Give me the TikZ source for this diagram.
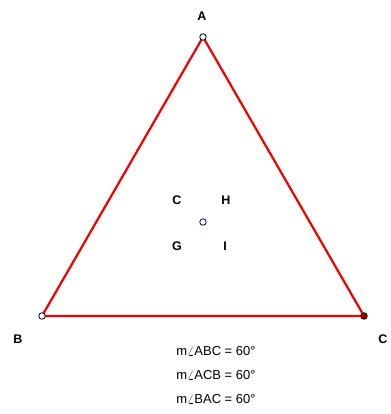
\documentclass[tikz,border=0pt]{standalone}
\usepackage{fontspec}
\setmainfont{Liberation Sans}
\usepackage{tikz}
\usetikzlibrary{positioning}

\begin{document}
\begin{tikzpicture}[
            x=1pt, y=-1pt,
            every node/.style={font=\small},
            % Estilos
            vlabel/.style={font=\bfseries\fontsize{12.5}{14}\selectfont, inner sep=0pt},
            measure/.style={font=\fontsize{13}{15}\selectfont, inner sep=0pt},
            side/.style={red!95!black, line width=2.2pt},
            pt/.style={circle, draw=black, fill=white, line width=0.8pt, minimum size=6.5pt, inner sep=0pt}
        ]

            \useasboundingbox (0,0) rectangle (390,414);

            % Vertices
            \coordinate (A) at (203,37);
            \coordinate (B) at (42,316);
            \coordinate (C) at (364,316);
            \coordinate (O) at (203,222);

            % Lados del triangulo
            \draw [side] (A) -- (B) -- (C) -- cycle;

            % Puntos
            \node (pA) [pt] at (A) {};
            \node (pB) [pt] at (B) {};
            \node (pC) [pt, fill=red!70!black, draw=black] at (C) {};
            \node (pO) [pt, draw=blue!40!black] at (O) {};

            % Etiquetas de vertices
            \node (lA) [vlabel] at (202,16) {A};
            \node (lB) [vlabel] at (18,339) {B};
            \node (lC) [vlabel] at (383,339) {C};

            % Etiquetas del centro
            \node (lC2) [vlabel] at (177,200) {C};
            \node (lH) [vlabel] at (226,200) {H};
            \node (lG) [vlabel] at (177,246) {G};
            \node (lI) [vlabel] at (225,246) {I};

            % Medidas
            \node (m1) [measure] at (216,351) {m$\angle$ABC = 60°};
            \node (m2) [measure, below=24pt of m1.center, anchor=center] {m$\angle$ACB = 60°};
            \node (m3) [measure, below=24pt of m2.center, anchor=center] {m$\angle$BAC = 60°};

        \end{tikzpicture}
\end{document}
